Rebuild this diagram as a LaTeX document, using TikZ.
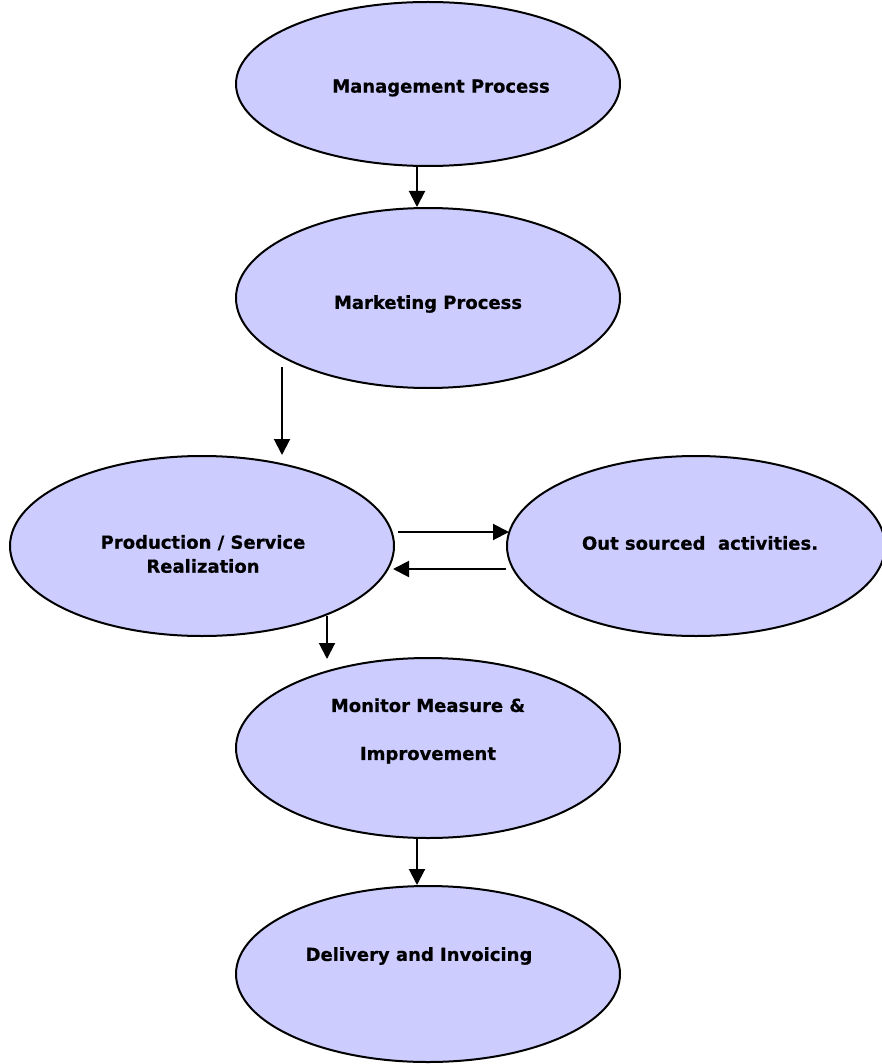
\documentclass[tikz,border=0pt]{standalone}
\usepackage{fontspec}
\setmainfont{DejaVu Sans}
\newfontfamily\lblfont{DejaVu Sans Bold}[FakeBold=0.6]
\usetikzlibrary{shapes.geometric,arrows.meta}
\definecolor{procfill}{HTML}{CCCCFF}
\tikzset{
  proc/.style={ellipse, draw=black, line width=2pt, fill=procfill, inner sep=0pt},
  lbl/.style={font=\lblfont\fontsize{18}{24}\selectfont, align=center, inner sep=0pt},
  arr/.style={line width=2pt, -{Triangle[length=16pt,width=16pt]}}
}
\begin{document}
\begin{tikzpicture}[x=1pt,y=-1pt]
  \useasboundingbox (0,0) rectangle (882,1064);
  \begin{scope}
    \clip (0,0) rectangle (882,1064);
    % process ellipses
    \node[proc, minimum width=384pt, minimum height=164pt] (mgmt) at (428,84) {};
    \node[proc, minimum width=384pt, minimum height=180pt] (mkt)  at (428,298) {};
    \node[proc, minimum width=384pt, minimum height=180pt] (prod) at (202,546) {};
    \node[proc, minimum width=378pt, minimum height=180pt] (out)  at (696,546) {};
    \node[proc, minimum width=384pt, minimum height=180pt] (mon)  at (428,748) {};
    \node[proc, minimum width=384pt, minimum height=176pt] (del)  at (428,974) {};
  \end{scope}
  % labels
  \node[lbl] (tmgmt) at (441,88) {Management Process};
  \node[lbl] (tmkt)  at (428,304) {Marketing Process};
  \node[lbl] (tprod) at (203,554) {Production / Service\\Realization};
  \node[lbl] (tout)  at (700,543) {Out sourced\ \ activities.};
  \node[lbl, font=\lblfont\fontsize{18}{48}\selectfont] (tmon) at (428,731) {Monitor Measure \&\\Improvement};
  \node[lbl] (tdel)  at (419,956) {Delivery and Invoicing};
  % flow arrows
  \draw[arr] ([xshift=-11pt]mgmt.south) -- ([xshift=-11pt]mkt.north);
  \draw[arr] ([xshift=-146pt,yshift=22pt]mkt.south) -- ([xshift=80pt]prod.north);
  \draw[arr] ([xshift=3pt,yshift=14pt]prod.east) -- ([xshift=3pt,yshift=14pt]out.west);
  \draw[arr] ([yshift=-23pt]out.west) -- ([xshift=-2pt,yshift=-23pt]prod.east);
  \draw[arr] ([xshift=125pt,yshift=21pt]prod.south) -- ([xshift=-101pt,yshift=-2pt]mon.north);
  \draw[arr] ([xshift=-11pt]mon.south) -- ([xshift=-11pt]del.north);
\end{tikzpicture}
\end{document}
